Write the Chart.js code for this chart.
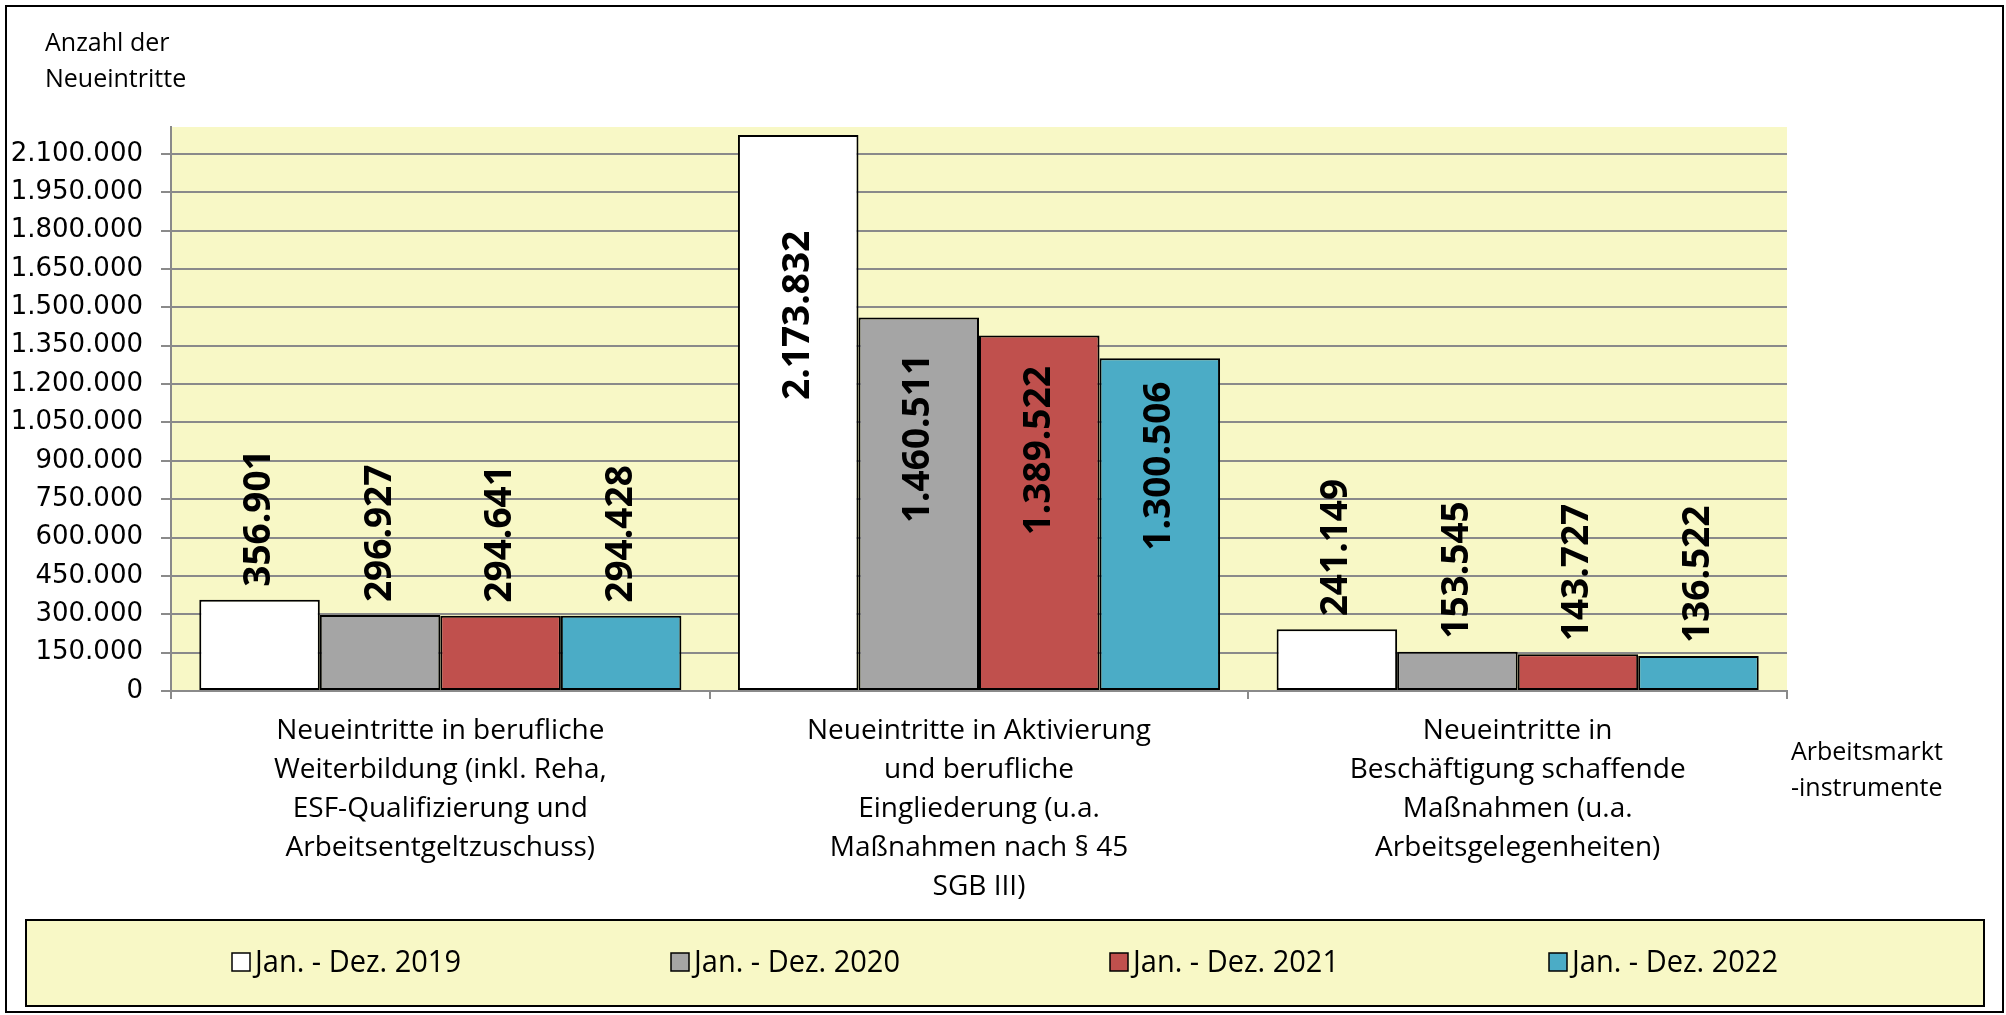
<!DOCTYPE html>
<html>
<head>
<meta charset="utf-8">
<script src="https://cdn.jsdelivr.net/npm/chart.js@4/dist/chart.umd.min.js"></script>
<style>
  html, body { margin: 0; padding: 0; background: #fff; }
  #wrap { width: 2006px; height: 1015px; position: relative; }
</style>
</head>
<body>
<div id="wrap"><canvas id="chart"></canvas></div>
<script>
// categories (multi-line axis labels)
const categories = [
  ["Neueintritte in berufliche", "Weiterbildung (inkl. Reha,", "ESF-Qualifizierung und", "Arbeitsentgeltzuschuss)"],
  ["Neueintritte in Aktivierung", "und berufliche", "Eingliederung (u.a.", "Maßnahmen nach § 45", "SGB III)"],
  ["Neueintritte in", "Beschäftigung schaffende", "Maßnahmen (u.a.", "Arbeitsgelegenheiten)"]
];
const seriesLabels = ["Jan. - Dez. 2019", "Jan. - Dez. 2020", "Jan. - Dez. 2021", "Jan. - Dez. 2022"];
const values2019 = [356901, 2173832, 241149];
const values2020 = [296927, 1460511, 153545];
const values2021 = [294641, 1389522, 143727];
const values2022 = [294428, 1300506, 136522];
const seriesColors = ["#FFFFFF", "#A5A5A5", "#C0504D", "#4BACC6"];
const yTickValues = [0, 150000, 300000, 450000, 600000, 750000, 900000, 1050000,
                     1200000, 1350000, 1500000, 1650000, 1800000, 1950000, 2100000];
const yTitle = ["Anzahl der", "Neueintritte"];
const xTitle = ["Arbeitsmarkt", "-instrumente"];
const yMax = 2205000;

const PLOT_BG = "#F8F8C6";
const GRID = "#8A8A8A";

const fmt = n => String(n).replace(/\B(?=(\d{3})+(?!\d))/g, ".");

const decor = {
  id: "decor",
  beforeDraw(chart) {
    const { ctx, chartArea: a } = chart;
    ctx.save();
    ctx.fillStyle = PLOT_BG;
    ctx.fillRect(a.left, a.top, a.right - a.left, a.bottom - a.top);
    // outer frame
    ctx.strokeStyle = "#000";
    ctx.lineWidth = 2;
    ctx.strokeRect(6, 6, 1997, 1006);
    // legend box
    ctx.fillStyle = PLOT_BG;
    ctx.fillRect(26, 920, 1958, 86);
    ctx.strokeRect(26, 920, 1958, 86);
    ctx.restore();
  },
  afterDatasetsDraw(chart) {
    const { ctx } = chart;
    ctx.save();
    ctx.fillStyle = "#000";
    ctx.font = "bold 37px 'Open Sans'";
    chart.data.datasets.forEach((ds, i) => {
      chart.getDatasetMeta(i).data.forEach((bar, j) => {
        const h = bar.base - bar.y;
        ctx.save();
        if (h > 250) {
          ctx.translate(bar.x, bar.y + h * 0.325);
          ctx.rotate(-Math.PI / 2);
          ctx.textAlign = "center";
        } else {
          ctx.translate(bar.x, bar.y - 13);
          ctx.rotate(-Math.PI / 2);
          ctx.textAlign = "left";
        }
        ctx.textBaseline = "middle";
        ctx.fillText(fmt(ds.data[j]), 0, 0);
        ctx.restore();
      });
    });
    ctx.restore();
  },
  afterDraw(chart) {
    const { ctx } = chart;
    ctx.save();
    ctx.fillStyle = "#000";
    ctx.textBaseline = "middle";
    ctx.textAlign = "left";
    ctx.font = "25px 'Open Sans'";
    yTitle.forEach((t, i) => ctx.fillText(t, 45, 44 + i * 36));
    xTitle.forEach((t, i) => ctx.fillText(t, 1791, 753 + i * 36));
    // legend entries (slightly condensed text)
    ctx.font = "31px 'Open Sans'";
    const squeeze = 0.935;
    chart.data.datasets.forEach((ds, i) => {
      const w = 18 + 5 + ctx.measureText(ds.label).width * squeeze;
      const x0 = 1005 + (i - 1.5) * 439 - w / 2;
      ctx.fillStyle = ds.backgroundColor;
      ctx.fillRect(x0, 953, 18, 18);
      ctx.strokeStyle = "#000";
      ctx.lineWidth = 1.5;
      ctx.strokeRect(x0, 953, 18, 18);
      ctx.fillStyle = "#000";
      ctx.save();
      ctx.translate(x0 + 23, 963);
      ctx.scale(squeeze, 1);
      ctx.fillText(ds.label, 0, 0);
      ctx.restore();
    });
    ctx.restore();
  }
};

const seriesValues = [values2019, values2020, values2021, values2022];

new Chart(document.getElementById("chart"), {
  type: "bar",
  data: {
    labels: categories,
    datasets: seriesLabels.map((label, i) => ({
      label,
      data: seriesValues[i],
      backgroundColor: seriesColors[i],
      borderColor: "#000",
      borderWidth: 2,
      borderSkipped: false,
      categoryPercentage: 0.895,
      barPercentage: 1.0
    }))
  },
  options: {
    responsive: true,
    maintainAspectRatio: false,
    animation: false,
    layout: { padding: { left: 0, top: 127, right: 219, bottom: 104 } },
    plugins: { legend: { display: false }, tooltip: { enabled: false } },
    scales: {
      x: {
        afterFit: s => { s.height = 220; },
        grid: { offset: true, drawOnChartArea: false, tickLength: 8, color: GRID, lineWidth: 2 },
        border: { color: GRID, width: 2 },
        ticks: { color: "#000", padding: 13, maxRotation: 0, autoSkip: false,
                 font: { family: "'Open Sans'", size: 28, lineHeight: 1.39 } }
      },
      y: {
        min: 0,
        max: yMax,
        afterFit: s => { s.width = 171; },
        afterBuildTicks: s => { s.ticks = yTickValues.map(v => ({ value: v })); },
        grid: { color: GRID, lineWidth: 2, tickLength: 10 },
        border: { color: GRID, width: 2 },
        ticks: { color: "#000", padding: 18, autoSkip: false,
                 font: { family: "'DejaVu Sans'", size: 26 },
                 callback: v => fmt(v) }
      }
    }
  },
  plugins: [decor]
});
</script>
</body>
</html>
